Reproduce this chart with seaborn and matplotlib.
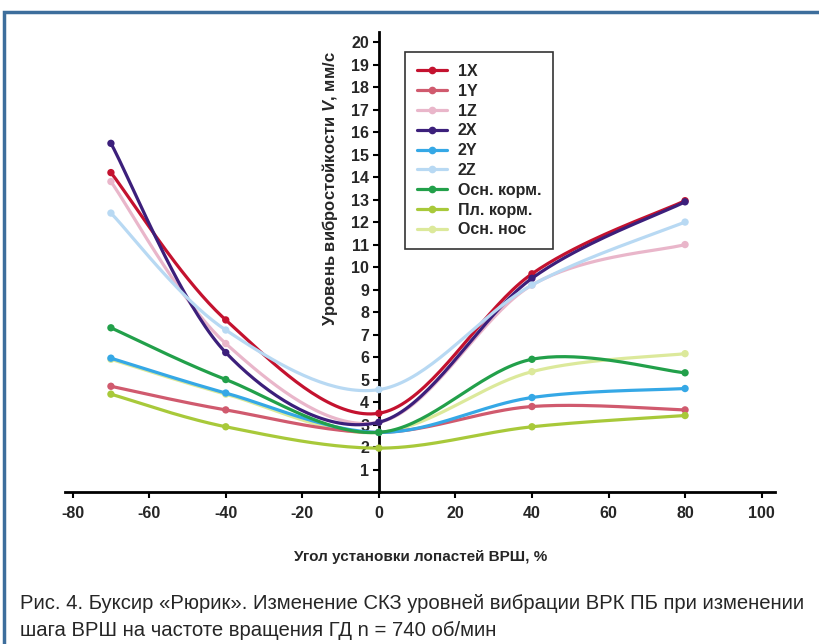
import numpy as np
import matplotlib
matplotlib.use('Agg')
import matplotlib.pyplot as plt
from matplotlib.lines import Line2D
from matplotlib.patches import Rectangle
import seaborn as sns

# ---------------- data ----------------
angles = [-70, -40, 0, 40, 80]
series_names = ['1X', '1Y', '1Z', '2X', '2Y', '2Z', 'Осн. корм.', 'Пл. корм.', 'Осн. нос']
v_1x = [14.2, 7.65, 3.5, 9.7, 12.95]
v_1y = [4.7, 3.65, 2.65, 3.8, 3.65]
v_1z = [13.8, 6.6, 3.1, 9.2, 11.0]
v_2x = [15.5, 6.2, 3.1, 9.5, 12.9]
v_2y = [5.95, 4.4, 2.65, 4.2, 4.6]
v_2z = [12.4, 7.2, 4.55, 9.2, 12.0]
v_osn_korm = [7.3, 5.0, 2.65, 5.9, 5.3]
v_pl_korm = [4.35, 2.9, 1.95, 2.9, 3.4]
v_osn_nos = [5.9, 4.35, 2.65, 5.35, 6.15]
values = [v_1x, v_1y, v_1z, v_2x, v_2y, v_2z, v_osn_korm, v_pl_korm, v_osn_nos]
colors = ['#c4122f', '#d05a6e', '#e9b6ca', '#3c1f7b', '#35a8e6',
          '#b8d9f3', '#22a04a', '#a8c93a', '#dce99b']
x_ticks = [-80, -60, -40, -20, 0, 20, 40, 60, 80, 100]
y_ticks = list(range(1, 21))

xlabel = 'Угол установки лопастей ВРШ, %'
ylabel = r'Уровень вибростойкости $V$, мм/с'
caption = ('Рис. 4. Буксир «Рюрик». Изменение СКЗ уровней вибрации ВРК ПБ при изменении\n'
           'шага ВРШ на частоте вращения ГД n = 740 об/мин')


def smooth(xs, ys, n=40):
    # Excel-like smoothed line (Catmull-Rom through the data points)
    p = np.column_stack([xs, ys]).astype(float)
    pad = np.vstack([p[0], p, p[-1]])
    t = np.linspace(0, 1, n, endpoint=False)[:, None]
    out = []
    for i in range(len(p) - 1):
        p0, p1, p2, p3 = pad[i], pad[i + 1], pad[i + 2], pad[i + 3]
        seg = 0.5 * ((2 * p1) + (-p0 + p2) * t
                     + (2 * p0 - 5 * p1 + 4 * p2 - p3) * t ** 2
                     + (-p0 + 3 * p1 - 3 * p2 + p3) * t ** 3)
        out.append(seg)
    out.append(p[-1][None, :])
    out = np.vstack(out)
    return out[:, 0], out[:, 1]


# ---------------- figure ----------------
sns.set_theme(style='white')
plt.rcParams['font.family'] = ['Liberation Sans', 'DejaVu Sans']
plt.rcParams['mathtext.fontset'] = 'custom'
plt.rcParams['mathtext.it'] = 'Liberation Sans:italic:bold'
plt.rcParams['mathtext.rm'] = 'Liberation Sans:bold'

fig = plt.figure(figsize=(8.19, 6.44), dpi=100)
fig.patch.set_facecolor('white')
ax = fig.add_axes([65 / 819, 152 / 644, 710 / 819, 460 / 644])

draw_order = [8, 0, 1, 2, 3, 4, 5, 6, 7]
for k, i in enumerate(draw_order):
    cx, cy = smooth(angles, values[i])
    sns.lineplot(x=cx, y=cy, ax=ax, color=colors[i], lw=2.3, sort=False,
                 estimator=None, zorder=3 + k)
    sns.scatterplot(x=angles, y=values[i], ax=ax, color=colors[i], s=28,
                    edgecolor='none', zorder=3 + k)

ax.set_xlim(-82, 103.5)
ax.set_ylim(0, 20.45)
ax.spines['left'].set_position(('data', 0))
ax.spines['top'].set_visible(False)
ax.spines['right'].set_visible(False)
for s in ['left', 'bottom']:
    ax.spines[s].set_color('black')
    ax.spines[s].set_linewidth(2)

ax.set_xticks(x_ticks)
ax.set_xticklabels([str(v) for v in x_ticks], fontweight='bold', fontsize=11.5)
ax.set_yticks(y_ticks)
ax.set_yticklabels([str(v) for v in y_ticks], fontweight='bold', fontsize=11.5)
ax.tick_params(axis='both', direction='out', length=4, width=1.5, color='black',
               bottom=True, left=True, pad=6)
ax.tick_params(axis='y', pad=3)
ax.set_xlabel('')
ax.set_ylabel('')
ax.grid(False)

fig.text(421 / 819, 1 - 557 / 644, xlabel, ha='center', va='center',
         fontsize=11, fontweight='bold')
fig.text(330 / 819, 1 - 189 / 644, ylabel, ha='center', va='center',
         rotation=90, fontsize=12, fontweight='bold')

handles = [Line2D([0], [0], color=c, lw=2.3, marker='o', markersize=4.5)
           for c in colors]
leg = ax.legend(handles, series_names, loc='upper left',
                bbox_to_anchor=(405 / 819, 1 - 52 / 644),
                bbox_transform=fig.transFigure, frameon=True, fancybox=False,
                edgecolor='black', handlelength=1.9, handletextpad=0.65,
                labelspacing=0.3, borderpad=0.75, borderaxespad=0,
                prop={'weight': 'bold', 'size': 11.5})
leg.get_frame().set_linewidth(1.2)
leg.set_zorder(20)

fig.text(20 / 819, 1 - 594 / 644, caption, ha='left', va='top',
         fontsize=14.6, linespacing=1.5)

fig.patches.append(Rectangle((4 / 819, -0.05), 1.2, 1 - 11.5 / 644 + 0.05,
                             transform=fig.transFigure, fill=False,
                             edgecolor='#3d6e9c', lw=2.5))

plt.savefig('out.png', dpi=100)
